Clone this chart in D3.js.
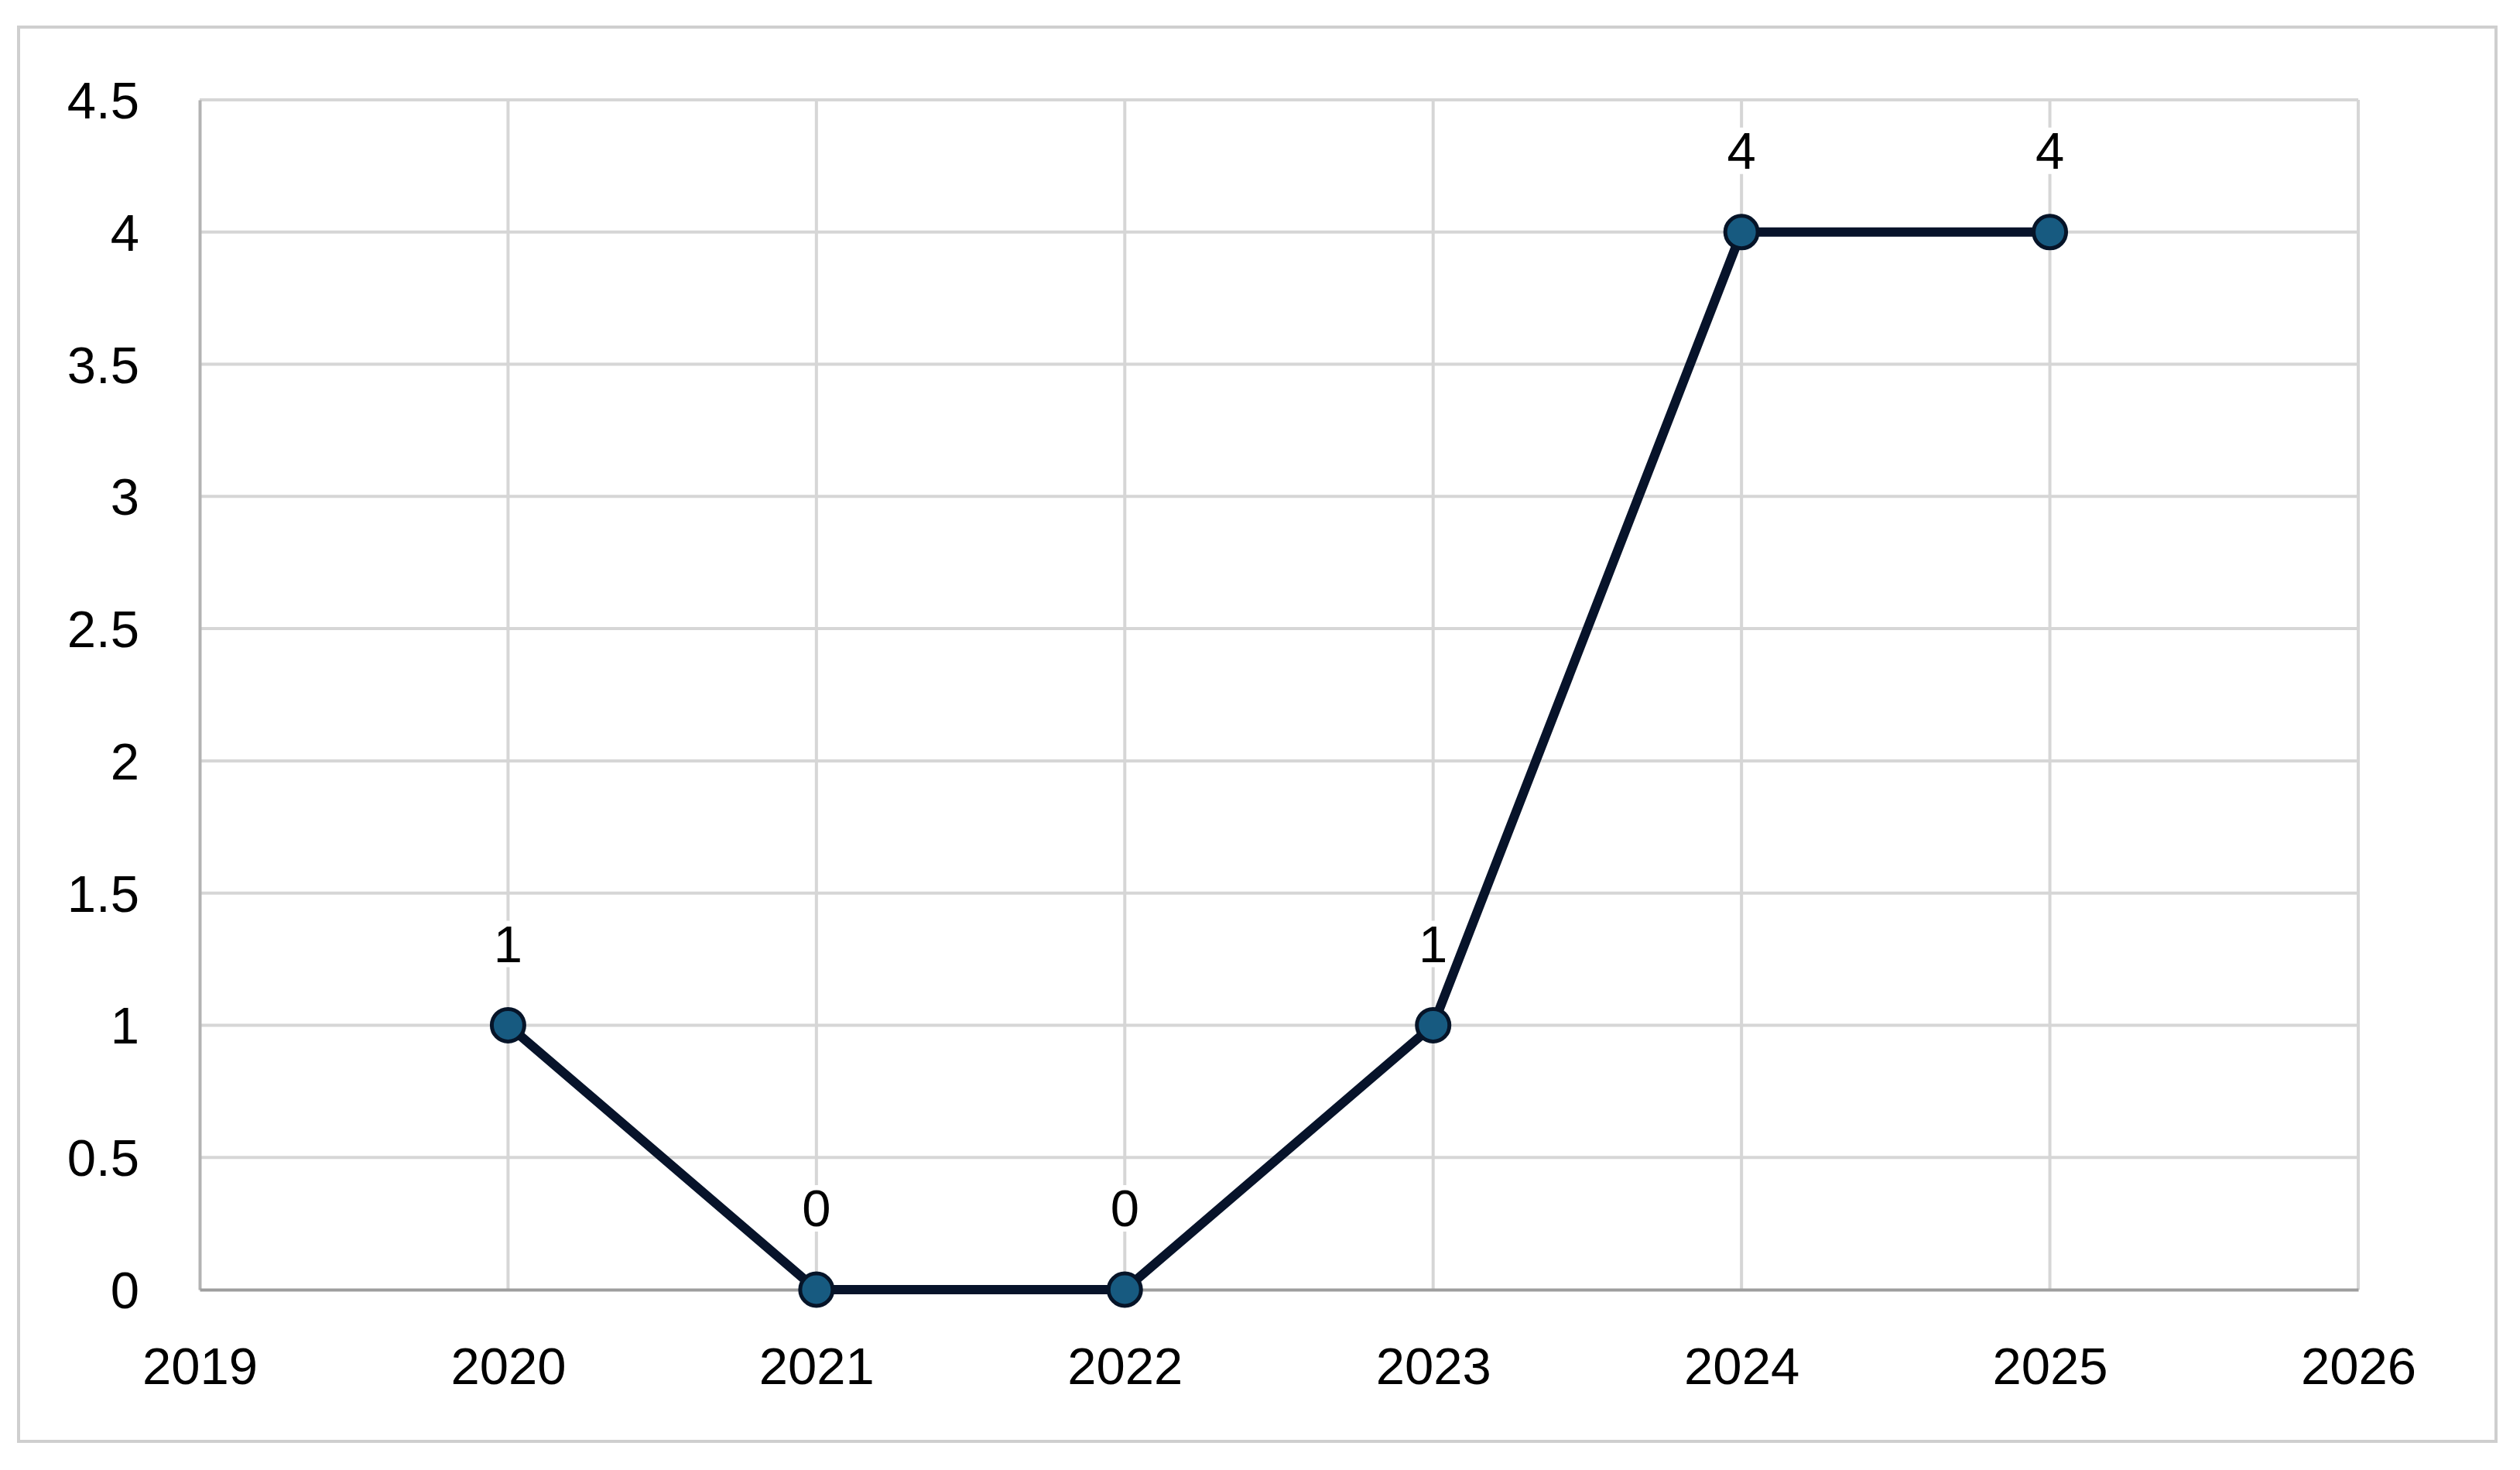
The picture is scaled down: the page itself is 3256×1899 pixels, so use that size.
<!DOCTYPE html>
<html>
<head>
<meta charset="utf-8">
<script src="https://cdn.jsdelivr.net/npm/d3@7"></script>
<style>
  body { margin: 0; background: #fff; }
  svg { display: block; }
</style>
</head>
<body>
<div id="container"></div>
<script>
/* CONSTANTS AND GLOBALS */
const width = 3256,
  height = 1899;
const margin = { top: 129, right: 209, bottom: 233, left: 258 };

/* DATA */
const years = [2020, 2021, 2022, 2023, 2024, 2025];
const counts = [1, 0, 0, 1, 4, 4];
const xTicks = [2019, 2020, 2021, 2022, 2023, 2024, 2025, 2026];
const yTicks = [0, 0.5, 1, 1.5, 2, 2.5, 3, 3.5, 4, 4.5];

const data = years.map((y, i) => ({ year: y, count: counts[i] }));

const svg = d3.select("#container")
  .append("svg")
  .attr("width", width)
  .attr("height", height)
  .style("font-family", "'Liberation Sans', Arial, sans-serif");

// outer chart frame
svg.append("rect")
  .attr("x", 24)
  .attr("y", 35)
  .attr("width", 3201)
  .attr("height", 1827)
  .attr("fill", "#fff")
  .attr("stroke", "#cfcfcf")
  .attr("stroke-width", 4);

/* SCALES */
const xScale = d3.scaleLinear()
  .domain([2019, 2026])
  .range([margin.left, width - margin.right]);

const yScale = d3.scaleLinear()
  .domain([0, 4.5])
  .range([height - margin.bottom, margin.top]);

/* GRIDLINES */
svg.append("g")
  .attr("class", "y-grid")
  .selectAll("line")
  .data(yTicks.filter(d => d > 0))
  .join("line")
  .attr("x1", margin.left)
  .attr("x2", width - margin.right)
  .attr("y1", d => yScale(d))
  .attr("y2", d => yScale(d))
  .attr("stroke", "#d6d6d6")
  .attr("stroke-width", 4);

svg.append("g")
  .attr("class", "x-grid")
  .selectAll("line")
  .data(xTicks.filter(d => d > 2019))
  .join("line")
  .attr("x1", d => xScale(d))
  .attr("x2", d => xScale(d))
  .attr("y1", margin.top)
  .attr("y2", height - margin.bottom)
  .attr("stroke", "#d6d6d6")
  .attr("stroke-width", 4);

/* AXES */
const yAxis = svg.append("g")
  .attr("class", "y-axis")
  .attr("transform", `translate(${margin.left},0)`)
  .call(d3.axisLeft(yScale).tickValues(yTicks).tickSize(0).tickPadding(78).tickFormat(d3.format("")));
yAxis.select(".domain").attr("stroke", "#b3b3b3").attr("stroke-width", 4);
yAxis.selectAll("text")
  .attr("fill", "#000")
  .style("font-size", "67px")
  .attr("dy", "0.35em");

const xAxis = svg.append("g")
  .attr("class", "x-axis")
  .attr("transform", `translate(0,${height - margin.bottom})`)
  .call(d3.axisBottom(xScale).tickValues(xTicks).tickSize(0).tickPadding(99).tickFormat(d3.format("d")));
xAxis.select(".domain").attr("stroke", "#9e9e9e").attr("stroke-width", 4);
xAxis.selectAll("text")
  .attr("fill", "#000")
  .style("font-size", "67px")
  .attr("dy", "0.35em");

/* DATA LABELS (with white backing, like the gaps in the gridlines) */
const labels = svg.append("g").attr("class", "labels")
  .selectAll("g")
  .data(data)
  .join("g")
  .attr("transform", d => `translate(${xScale(d.year)},${yScale(d.count) - 105})`);

labels.append("rect")
  .attr("x", -22)
  .attr("y", -30)
  .attr("width", 44)
  .attr("height", 60)
  .attr("fill", "#fff");

labels.append("text")
  .attr("text-anchor", "middle")
  .attr("dy", "0.35em")
  .style("font-size", "67px")
  .attr("fill", "#000")
  .text(d => d.count);

/* LINE */
const line = d3.line()
  .x(d => xScale(d.year))
  .y(d => yScale(d.count));

svg.append("path")
  .datum(data)
  .attr("fill", "none")
  .attr("stroke", "#07132a")
  .attr("stroke-width", 12)
  .attr("stroke-linejoin", "round")
  .attr("d", line);

svg.selectAll(".marker")
  .data(data)
  .join("circle")
  .attr("class", "marker")
  .attr("cx", d => xScale(d.year))
  .attr("cy", d => yScale(d.count))
  .attr("r", 21)
  .attr("fill", "#175a80")
  .attr("stroke", "#061428")
  .attr("stroke-width", 5);
</script>
</body>
</html>
